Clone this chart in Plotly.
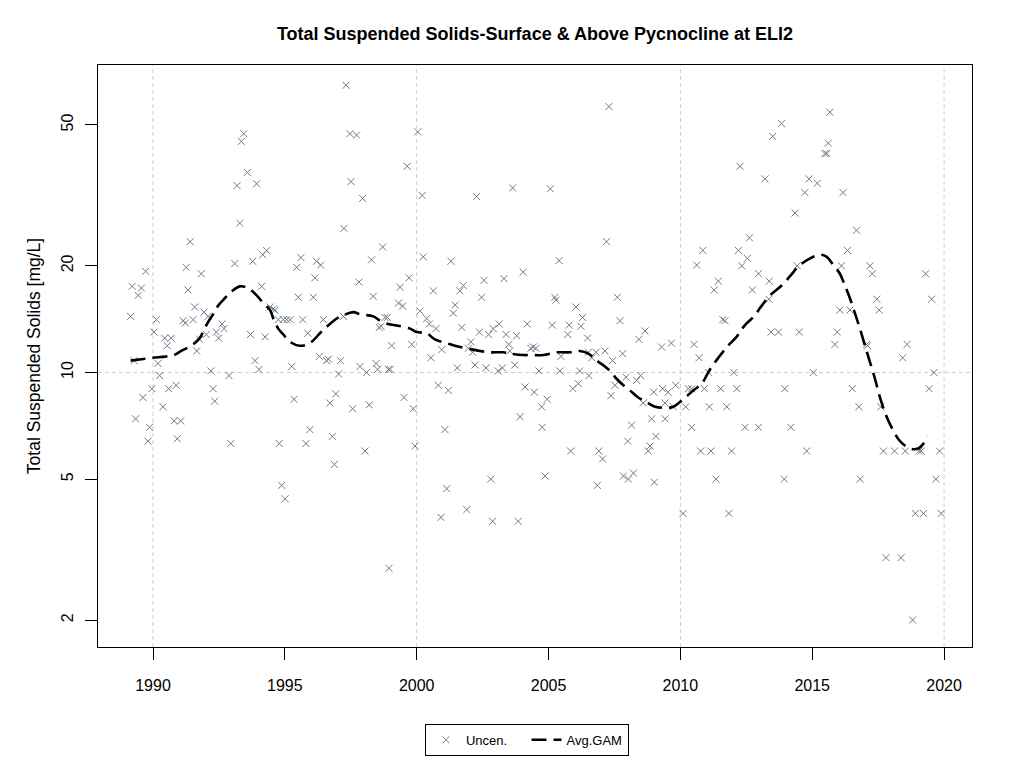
"""Total suspended solids at ELI2: observations plus averaged GAM fit (R base-graphics look)."""
import plotly.graph_objects as go

# ---------------------------------------------------------------------------
# Data
# ---------------------------------------------------------------------------

obs_year = [
    1993.44, 1993.35, 1993.58, 1993.19, 1993.29, 1991.41, 1989.72, 1991.26, 1991.83, 1993.10,
    1989.21, 1989.56, 1989.44, 1991.33, 1991.58, 1991.93, 1992.09, 1989.15, 1990.13, 1991.14,
    1991.23, 1991.52, 1992.62, 1992.69, 1990.04, 1992.40, 1992.02, 1991.77, 1992.49, 1990.44,
    1990.69, 1990.54, 1991.66, 1989.28, 1990.19, 1992.19, 1990.25, 1992.88, 1989.96, 1990.59,
    1990.88, 1992.28, 1989.62, 1992.34, 1990.38, 1989.34, 1989.87, 1990.80, 1991.05, 1989.81,
    1990.92, 1992.95,
    1997.32, 1997.47, 1997.72, 1993.93, 1997.51, 1997.95, 1997.24, 1998.71, 1993.78, 1994.16,
    1994.31, 1995.61, 1995.45, 1996.20, 1996.36, 1998.29, 1996.14, 1997.81, 1994.12, 1995.51,
    1996.08, 1998.35, 1994.44, 1994.56, 1994.63, 1994.94, 1995.07, 1995.20, 1994.75, 1995.68,
    1996.46, 1997.22, 1998.58, 1993.70, 1994.25, 1995.87, 1996.31, 1996.58, 1996.65, 1997.11,
    1993.87, 1994.02, 1995.26, 1997.04, 1997.85, 1998.10, 1998.46, 1998.52, 1995.35, 1996.93,
    1996.71, 1997.57, 1998.20, 1995.95, 1994.79, 1995.80, 1996.80, 1998.04, 1996.88, 1994.88,
    1995.01,
    2000.04, 1999.64, 2000.21, 2002.27, 2003.64, 2000.25, 2001.30, 1999.71, 1999.37, 2000.63,
    2001.64, 2001.77, 2002.55, 2003.31, 2002.46, 1999.31, 1999.47, 2001.46, 2001.39, 1998.80,
    1998.89, 1998.65, 2000.13, 2000.38, 2000.48, 2000.73, 2001.71, 2002.38, 2002.73, 2002.90,
    2003.13, 2003.39, 2003.79, 1999.05, 1999.81, 2000.95, 2002.06, 2001.96, 2002.12, 2003.49,
    2003.53, 2000.54, 1998.99, 1998.93, 2001.54, 2002.21, 2002.63, 2003.09, 2003.25, 2003.72,
    2000.82, 2001.20, 1999.52, 1999.87, 2003.92, 2001.07, 1999.94, 2002.81, 2001.14, 2000.92,
    2001.90, 2002.88, 2003.85, 1998.95,
    2007.29, 2005.07, 2007.20, 2005.40, 2004.04, 2005.24, 2005.28, 2007.61, 2006.04, 2006.29,
    2004.19, 2005.14, 2005.78, 2005.73, 2006.23, 2007.71, 2006.48, 2008.66, 2008.43, 2004.33,
    2004.52, 2004.42, 2005.47, 2006.51, 2006.80, 2007.14, 2006.64, 2007.43, 2007.81, 2004.64,
    2005.43, 2006.18, 2006.53, 2007.94, 2008.49, 2008.34, 2004.11, 2004.46, 2005.92, 2006.13,
    2007.52, 2007.37, 2004.95, 2004.74, 2008.59, 2008.91, 2004.76, 2008.15, 2009.07, 2008.00,
    2008.78, 2008.85, 2005.84, 2006.91, 2007.05, 2004.87, 2007.84, 2008.03, 2008.22, 2006.85,
    2009.01, 2008.99,
    2013.84, 2013.50, 2012.26, 2013.21, 2014.35, 2012.62, 2010.85, 2012.20, 2012.54, 2010.62,
    2012.33, 2014.43, 2012.96, 2013.37, 2011.44, 2011.28, 2012.73, 2013.36, 2011.61, 2011.69,
    2013.44, 2013.72, 2014.51, 2009.66, 2010.52, 2009.29, 2010.71, 2011.06, 2012.03, 2009.33,
    2009.54, 2009.82, 2010.30, 2010.43, 2010.91, 2011.53, 2012.14, 2013.96, 2009.42, 2009.73,
    2010.20, 2011.10, 2011.76, 2009.42, 2010.43, 2012.45, 2012.96, 2014.19, 2010.77, 2011.16,
    2011.94, 2011.35, 2013.94, 2010.10, 2011.84,
    2015.67, 2015.61, 2015.48, 2015.55, 2014.88, 2015.19, 2014.72, 2016.17, 2016.68, 2016.34,
    2016.11, 2017.19, 2017.28, 2019.30, 2017.45, 2017.54, 2019.53, 2016.05, 2016.43, 2015.95,
    2015.86, 2017.06, 2017.10, 2018.60, 2018.43, 2015.04, 2019.62, 2016.52, 2019.43, 2016.77,
    2017.60, 2014.79, 2017.70, 2018.12, 2018.53, 2019.04, 2019.13, 2019.83, 2016.82, 2019.69,
    2018.91, 2019.22, 2019.89, 2017.80, 2018.37, 2018.81,
]

obs_tss = [
    47.2, 44.9, 36.7, 33.7, 26.4, 23.4, 19.3, 19.8, 19.0, 20.3,
    17.5, 17.3, 16.5, 17.1, 15.3, 14.8, 14.4, 14.4, 14.1, 14.0,
    13.8, 14.1, 13.7, 13.3, 13.0, 13.0, 12.8, 12.4, 12.5, 12.5,
    12.5, 11.9, 11.5, 10.8, 10.6, 10.1, 9.8, 9.8, 9.0, 9.0,
    9.2, 9.0, 8.5, 8.3, 8.0, 7.4, 7.0, 7.3, 7.3, 6.4,
    6.5, 6.3,
    64.7, 47.2, 46.8, 34.1, 34.6, 31.0, 25.5, 22.6, 20.6, 21.5,
    22.1, 21.1, 19.8, 20.6, 20.1, 20.8, 18.5, 18.0, 17.5, 16.3,
    16.3, 16.4, 15.3, 15.1, 15.0, 14.1, 14.1, 14.1, 14.1, 14.1,
    14.1, 14.4, 13.4, 12.8, 12.6, 12.9, 11.1, 10.8, 10.9, 10.8,
    10.8, 10.2, 10.4, 9.9, 10.4, 10.0, 10.6, 10.2, 8.4, 8.7,
    8.2, 7.9, 8.1, 6.9, 6.3, 6.3, 6.6, 6.0, 5.5, 4.8,
    4.4,
    47.8, 38.2, 31.6, 31.4, 33.2, 21.2, 20.6, 18.5, 17.4, 17.0,
    17.0, 17.6, 18.2, 18.4, 16.3, 15.7, 15.4, 15.5, 14.7, 14.3,
    14.3, 13.5, 14.9, 14.2, 13.7, 13.3, 13.4, 13.0, 12.8, 13.3,
    13.7, 12.8, 12.7, 11.9, 12.0, 11.6, 12.2, 11.7, 11.4, 12.0,
    11.5, 11.0, 10.2, 10.2, 10.3, 10.5, 10.3, 10.1, 10.3, 10.5,
    9.2, 8.9, 8.5, 7.9, 7.5, 6.9, 6.2, 5.0, 4.7, 3.9,
    4.1, 3.8, 3.8, 2.8,
    56.3, 33.0, 23.4, 20.7, 19.2, 16.3, 16.0, 16.3, 15.3, 14.3,
    13.7, 13.6, 13.6, 12.8, 13.5, 14.0, 12.5, 13.1, 12.4, 11.7,
    11.7, 11.8, 11.1, 11.4, 11.4, 11.5, 11.0, 10.8, 11.3, 10.1,
    10.1, 10.1, 9.8, 9.7, 9.8, 9.5, 9.1, 8.8, 9.0, 9.3,
    9.2, 8.6, 8.4, 8.0, 8.2, 7.4, 7.0, 7.1, 6.6, 6.4,
    6.0, 6.2, 6.0, 6.0, 5.7, 5.1, 5.1, 5.0, 5.2, 4.8,
    4.9, 8.8,
    50.4, 46.4, 38.2, 35.2, 28.2, 24.0, 22.1, 22.1, 21.0, 20.1,
    20.0, 20.0, 19.0, 18.1, 18.1, 17.1, 17.1, 16.1, 14.1, 14.0,
    13.0, 13.0, 13.0, 12.1, 12.0, 11.8, 11.0, 10.0, 10.0, 9.0,
    8.8, 9.2, 9.0, 9.0, 9.0, 9.0, 9.0, 9.0, 8.2, 8.0,
    8.0, 8.0, 8.0, 7.4, 7.0, 7.0, 7.0, 7.0, 6.0, 6.0,
    6.0, 5.0, 5.0, 4.0, 4.0,
    54.3, 44.4, 41.5, 41.5, 35.2, 34.2, 32.2, 32.2, 25.2, 22.1,
    20.0, 20.0, 19.0, 19.0, 16.1, 15.0, 16.1, 15.0, 15.0, 13.0,
    12.0, 12.0, 11.9, 12.0, 11.0, 10.0, 10.0, 9.0, 9.0, 8.0,
    8.0, 6.0, 6.0, 6.0, 6.0, 6.0, 6.0, 6.0, 5.0, 5.0,
    4.0, 4.0, 4.0, 3.0, 3.0, 2.0,
]

gam_year = [
    1989.15, 1989.56, 1990.00, 1990.50, 1990.80, 1991.07, 1991.45, 1991.77, 1991.93, 1992.12,
    1992.31, 1992.46, 1992.72, 1992.97, 1993.29, 1993.61, 1993.93, 1994.18, 1994.44, 1994.56,
    1994.75, 1994.94, 1995.20, 1995.55, 1995.95, 1996.33, 1996.61, 1996.97, 1997.22, 1997.60,
    1997.85, 1998.35, 1998.61, 1998.92, 1999.18, 1999.75, 2000.00, 2000.38, 2000.69, 2001.14,
    2001.45, 2001.90, 2002.40, 2002.78, 2003.28, 2003.54, 2004.04, 2004.30, 2004.80, 2005.31,
    2005.81, 2006.19, 2006.51, 2006.83, 2007.14, 2007.39, 2007.58, 2007.84, 2008.09, 2008.40,
    2008.66, 2009.04, 2009.48, 2009.73, 2010.11, 2010.49, 2010.81, 2011.12, 2011.44, 2011.81,
    2012.13, 2012.45, 2012.83, 2013.02, 2013.40, 2013.84, 2014.16, 2014.50, 2014.87, 2015.29,
    2015.55, 2015.80, 2016.05, 2016.24, 2016.43, 2016.62, 2016.81, 2017.00, 2017.19, 2017.38,
    2017.57, 2017.76, 2018.01, 2018.33, 2018.71, 2019.02, 2019.22, 2019.37,
]

gam_tss = [
    10.8, 10.9, 11.0, 11.1, 11.2, 11.5, 11.9, 12.5, 13.2, 14.0,
    14.7, 15.4, 16.2, 16.9, 17.5, 17.3, 16.5, 15.7, 15.0, 14.2,
    13.3, 12.8, 12.2, 11.9, 12.1, 12.9, 13.5, 14.2, 14.5, 14.8,
    14.6, 14.4, 14.0, 13.7, 13.6, 13.3, 13.0, 12.9, 12.4, 12.1,
    11.9, 11.7, 11.5, 11.4, 11.4, 11.3, 11.2, 11.2, 11.2, 11.4,
    11.4, 11.5, 11.3, 10.8, 10.4, 10.0, 9.6, 9.2, 8.9, 8.5,
    8.3, 8.0, 7.95, 8.0, 8.4, 8.9, 9.3, 10.2, 11.0, 11.9,
    12.6, 13.6, 14.5, 15.2, 16.5, 17.6, 18.7, 20.0, 20.9, 21.5,
    21.2, 20.1, 19.0, 17.6, 16.2, 14.7, 13.3, 11.9, 10.7, 9.6,
    8.5, 7.7, 7.0, 6.4, 6.1, 6.1, 6.3, 6.6,
]

x_ticks = [1990, 1995, 2000, 2005, 2010, 2015, 2020]
x_grid = [1990, 2000, 2010, 2020]
y_ticks = [2, 5, 10, 20, 50]
y_grid = [10]

TITLE = "Total Suspended Solids-Surface & Above Pycnocline at ELI2"
Y_TITLE = "Total Suspended Solids [mg/L]"
FONT = "Liberation Sans, Arial, sans-serif"
NBSP = "\u00a0"

# ---------------------------------------------------------------------------
# Figure
# ---------------------------------------------------------------------------

fig = go.Figure()

fig.add_trace(go.Scatter(
    x=obs_year, y=obs_tss, mode="markers", name="Uncen." + NBSP * 4,
    marker={"symbol": "x-thin", "size": 7, "line": {"color": "#6c7b8b", "width": 1}},
))
fig.add_trace(go.Scatter(
    x=gam_year, y=gam_tss, mode="lines", name="Avg.GAM",
    line={"color": "black", "width": 2.6, "dash": "15px,7px", "shape": "spline"},
))

grid_line = {"color": "#cccccc", "width": 1, "dash": "4px,3px"}
for yr in x_grid:
    fig.add_vline(x=yr, line=grid_line, layer="below")
for val in y_grid:
    fig.add_hline(y=val, line=grid_line, layer="below")

axis_common = dict(
    showline=True, linecolor="black", linewidth=1, mirror=True,
    ticks="outside", ticklen=12, tickcolor="black", tickwidth=1,
    showgrid=False, zeroline=False,
    tickfont={"family": FONT, "size": 16, "color": "black"},
)

# the page body has an 8px margin, so margins are shifted to land the plot box
# at the reference position (98..972 x 65..647)
fig.update_layout(
    width=1024, height=768,
    paper_bgcolor="white", plot_bgcolor="white",
    margin={"l": 90, "r": 60, "t": 57, "b": 129},
    font={"family": FONT, "color": "black"},
    title={
        "text": f"<b>{TITLE}</b>", "x": 0.5, "xref": "paper",
        "y": 1 - 26 / 768, "yref": "container", "yanchor": "middle",
        "font": {"family": FONT, "size": 18, "color": "black"},
    },
    xaxis=dict(axis_common, range=[1987.914, 2021.06], tickvals=x_ticks,
               ticklabelstandoff=12),
    yaxis=dict(
        axis_common, type="log", range=[0.225, 1.868], tickvals=y_ticks,
        tickangle=-90, ticklabelstandoff=6,
        title={"text": Y_TITLE, "standoff": 13,
               "font": {"family": FONT, "size": 17.5, "color": "black"}},
    ),
    legend={
        "orientation": "h", "x": 0.374, "xanchor": "left",
        "y": -0.132, "yanchor": "top",
        "bordercolor": "black", "borderwidth": 1, "bgcolor": "white",
        "font": {"family": FONT, "size": 13, "color": "black"},
    },
    showlegend=True,
)

fig.write_html("out.html")
